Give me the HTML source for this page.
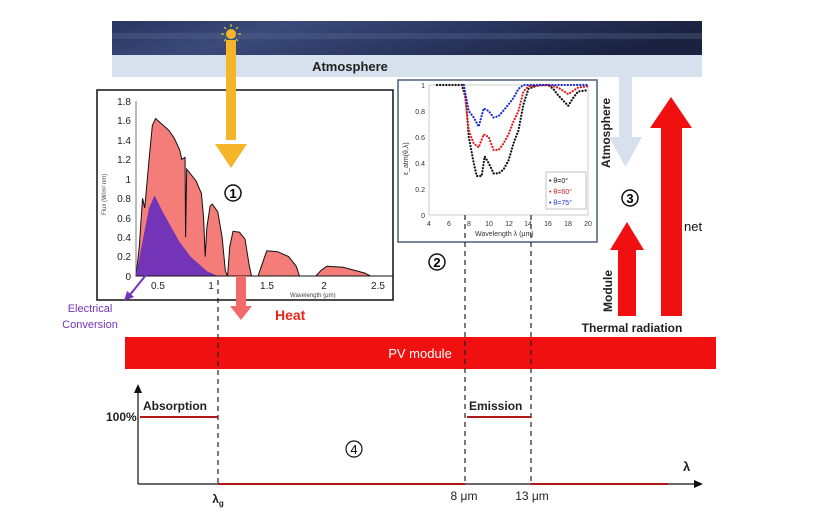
<!DOCTYPE html>
<html><head><meta charset="utf-8"><style>
html,body{margin:0;padding:0;background:#fff;width:832px;height:525px;overflow:hidden}
text{font-family:"Liberation Sans",sans-serif}
</style></head><body>
<svg width="832" height="525" viewBox="0 0 832 525" xmlns="http://www.w3.org/2000/svg">
<defs>
<linearGradient id="sky" x1="0" y1="0" x2="1" y2="0.2">
<stop offset="0" stop-color="#2a3560"/><stop offset="0.3" stop-color="#3b4a7a"/><stop offset="0.6" stop-color="#2c3862"/><stop offset="1" stop-color="#1b2240"/></linearGradient>
</defs>
<!-- banner -->
<rect x="112" y="21" width="590" height="35" fill="url(#sky)"/>
<rect x="112" y="33" width="590" height="6" fill="#5a6790" opacity="0.35"/>
<rect x="112" y="55" width="590" height="22" fill="#d7e1ee"/>
<text x="350" y="71" font-size="13" font-weight="bold" fill="#222" text-anchor="middle">Atmosphere</text>
<!-- sun -->
<circle cx="231" cy="34" r="5" fill="#f5b52a"/>
<g stroke="#c8d040" stroke-width="1.2"><line x1="231" y1="24" x2="231" y2="27"/><line x1="221" y1="34" x2="224" y2="34"/><line x1="238" y1="34" x2="241" y2="34"/><line x1="224" y1="27" x2="226" y2="29"/><line x1="238" y1="27" x2="236" y2="29"/><line x1="224" y1="41" x2="226" y2="39"/><line x1="238" y1="41" x2="236" y2="39"/></g>
<!-- left chart box -->
<rect x="97" y="90" width="296" height="210" fill="#fff" stroke="#111" stroke-width="1.5"/>
<g transform="translate(136,276) scale(109,-97.2) translate(-0.3,0)">
<polygon fill="#f47d7a" stroke="#111" stroke-width="1" vector-effect="non-scaling-stroke" points="0.3,0 0.33,0.3 0.36,0.8 0.38,0.7 0.42,1.2 0.45,1.55 0.48,1.62 0.5,1.6 0.55,1.55 0.6,1.5 0.65,1.42 0.7,1.3 0.72,1.2 0.75,1.22 0.755,0.4 0.765,1.1 0.8,1.05 0.85,0.98 0.9,0.85 0.92,0.6 0.935,0.2 0.95,0.5 0.98,0.72 1.0,0.74 1.05,0.66 1.09,0.4 1.12,0.05 1.14,0 1.16,0.3 1.19,0.46 1.25,0.45 1.3,0.38 1.34,0.1 1.36,0 1.42,0 1.45,0.1 1.5,0.26 1.6,0.25 1.7,0.2 1.77,0.1 1.8,0 1.95,0 2.0,0.06 2.05,0.1 2.2,0.09 2.4,0.03 2.45,0"/>
<polygon fill="#7434b8" points="0.3,0 0.35,0.3 0.42,0.7 0.47,0.83 0.55,0.65 0.7,0.35 0.8,0.2 0.95,0.05 1.05,0"/>
</g>
<line x1="136" y1="276" x2="393" y2="276" stroke="#111" stroke-width="1"/>
<line x1="136" y1="101" x2="136" y2="276" stroke="#555" stroke-width="0.8"/>
<g font-size="10" fill="#222" text-anchor="end">
<text x="131" y="105">1.8</text><text x="131" y="124">1.6</text><text x="131" y="144">1.4</text><text x="131" y="163">1.2</text><text x="131" y="183">1</text><text x="131" y="202">0.8</text><text x="131" y="222">0.6</text><text x="131" y="241">0.4</text><text x="131" y="260">0.2</text><text x="131" y="280">0</text></g>
<g font-size="10" fill="#222" text-anchor="middle"><text x="158" y="289">0.5</text><text x="211" y="289">1</text><text x="267" y="289">1.5</text><text x="324" y="289">2</text><text x="378" y="289">2.5</text></g>
<text x="290" y="297" font-size="6" fill="#444">Wavelength (μm)</text>
<text transform="translate(106,215) rotate(-90)" font-size="6" fill="#444">Flux (W/m² nm)</text>
<!-- yellow arrow -->
<rect x="226" y="40" width="10" height="100" fill="#f5b52a"/>
<polygon points="215,144 247,144 231,168" fill="#f5b52a"/>
<circle cx="233" cy="193" r="8" fill="#fff" stroke="#111" stroke-width="1.5"/><text x="233" y="198" font-size="13" text-anchor="middle" font-weight="bold">1</text>
<!-- heat arrow -->
<rect x="236" y="276" width="10" height="30" fill="#f46a6a"/>
<polygon points="230,306 252,306 241,320" fill="#f46a6a"/>
<text x="275" y="320" font-size="14" font-weight="bold" fill="#e8241c">Heat</text>
<line x1="150" y1="270" x2="129" y2="296" stroke="#7434b8" stroke-width="2"/>
<polygon points="124,301 127,291 134,297" fill="#7434b8"/>
<text x="90" y="312" font-size="11" fill="#7434b8" text-anchor="middle">Electrical</text>
<text x="90" y="328" font-size="11" fill="#7434b8" text-anchor="middle">Conversion</text>
<!-- inset chart -->
<rect x="398" y="80" width="199" height="162" fill="#fff" stroke="#4a5e7a" stroke-width="1.5"/>
<rect x="429" y="85" width="159" height="130" fill="none" stroke="#aaa" stroke-width="0.6"/>
<g font-size="7" fill="#333" text-anchor="end"><text x="425" y="88">1</text><text x="425" y="114">0.8</text><text x="425" y="140">0.6</text><text x="425" y="166">0.4</text><text x="425" y="192">0.2</text><text x="425" y="218">0</text></g>
<g font-size="7" fill="#333" text-anchor="middle"><text x="429" y="226">4</text><text x="449" y="226">6</text><text x="469" y="226">8</text><text x="489" y="226">10</text><text x="509" y="226">12</text><text x="528" y="226">14</text><text x="548" y="226">16</text><text x="568" y="226">18</text><text x="588" y="226">20</text></g>
<text x="475" y="236" font-size="7" fill="#333">Wavelength λ (μm)</text>
<text transform="translate(408,175) rotate(-90)" font-size="7" fill="#333">ε_atm(θ,λ)</text>
<g transform="translate(429,215) scale(9.94,-130) translate(-4,0)" fill="none" stroke-linecap="round" vector-effect="non-scaling-stroke">
<polyline stroke="#111" stroke-width="2.2" stroke-dasharray="0.1 3" vector-effect="non-scaling-stroke" points="4.8,1 7.3,1 7.7,0.9 8,0.6 8.5,0.4 8.8,0.3 9.3,0.3 9.6,0.45 10,0.4 10.5,0.32 11,0.32 11.5,0.35 12,0.42 12.5,0.55 13,0.65 13.5,0.85 14,0.97 15,1 16,1 16.5,0.97 17,0.92 17.5,0.88 18,0.84 18.5,0.9 19,0.95 20,0.96"/>
<polyline stroke="#e02020" stroke-width="2.2" stroke-dasharray="0.1 3" vector-effect="non-scaling-stroke" points="7.5,1 8,0.65 8.5,0.55 9,0.52 9.5,0.62 10,0.6 10.5,0.5 11,0.5 11.5,0.55 12,0.62 12.5,0.72 13,0.8 13.5,0.95 14,0.99 16,1 17,0.98 18,0.93 19,0.98 20,0.99"/>
<polyline stroke="#2030d0" stroke-width="2.2" stroke-dasharray="0.1 3" vector-effect="non-scaling-stroke" points="7.5,1 8,0.8 8.5,0.75 9,0.68 9.5,0.82 10,0.8 10.5,0.75 11,0.76 12,0.85 12.5,0.9 13,0.97 13.5,1 20,1"/>
</g>
<rect x="546" y="172" width="40" height="37" fill="#fff" stroke="#999" stroke-width="0.6"/>
<g font-size="7"><text x="549" y="183" fill="#111">• θ=0°</text><text x="549" y="194" fill="#d02020">• θ=60°</text><text x="549" y="205" fill="#2030d0">• θ=75°</text></g>
<circle cx="437" cy="262" r="8" fill="#fff" stroke="#111" stroke-width="1.5"/><text x="437" y="267" font-size="13" text-anchor="middle" font-weight="bold">2</text>
<!-- right arrows -->
<rect x="619" y="77" width="13" height="60" fill="#d7e1ee"/>
<polygon points="609,137 642,137 625.5,167" fill="#d7e1ee"/>
<text transform="translate(610,168) rotate(-90)" font-size="12" font-weight="bold" fill="#222">Atmosphere</text>
<circle cx="630" cy="198" r="8" fill="#fff" stroke="#111" stroke-width="1.5"/><text x="630" y="203" font-size="13" text-anchor="middle" font-weight="bold">3</text>
<rect x="661" y="128" width="21" height="188" fill="#f01010"/>
<polygon points="650,128 692,128 671,97" fill="#f01010"/>
<text x="684" y="231" font-size="13" fill="#111">net</text>
<rect x="618" y="250" width="18" height="66" fill="#f01010"/>
<polygon points="610,250 644,250 627,222" fill="#f01010"/>
<text transform="translate(612,312) rotate(-90)" font-size="12" font-weight="bold" fill="#222">Module</text>
<text x="632" y="332" font-size="12" font-weight="bold" fill="#222" text-anchor="middle">Thermal radiation</text>
<!-- PV module -->
<rect x="125" y="337" width="591" height="32" fill="#f01010"/>
<text x="420" y="358" font-size="13" fill="#fff" text-anchor="middle">PV module</text>
<!-- dashed lines -->
<g stroke="#222" stroke-width="1.2" stroke-dasharray="5 4">
<line x1="218" y1="280" x2="218" y2="484"/><line x1="465" y1="215" x2="465" y2="484"/><line x1="531" y1="215" x2="531" y2="484"/></g>
<!-- bottom plot -->
<line x1="138" y1="484" x2="138" y2="392" stroke="#111" stroke-width="1.2"/>
<polygon points="134,393 142,393 138,384" fill="#111"/>
<line x1="138" y1="484" x2="695" y2="484" stroke="#111" stroke-width="1.2"/>
<polygon points="694,480 694,488 703,484" fill="#111"/>
<g stroke="#b01818" stroke-width="2"><line x1="140" y1="417" x2="218" y2="417"/><line x1="467" y1="417" x2="531" y2="417"/><line x1="218" y1="484" x2="465" y2="484"/><line x1="531" y1="484" x2="668" y2="484"/></g>
<text x="106" y="421" font-size="12" font-weight="bold" fill="#222">100%</text>
<text x="143" y="410" font-size="12" font-weight="bold" fill="#222">Absorption</text>
<text x="469" y="410" font-size="12" font-weight="bold" fill="#222">Emission</text>
<text x="683" y="471" font-size="13" font-weight="bold" fill="#222">λ</text>
<text x="218" y="503" font-size="12" font-weight="bold" fill="#222" text-anchor="middle">λ<tspan font-size="8" dy="3">g</tspan></text>
<text x="464" y="500" font-size="12" fill="#222" text-anchor="middle">8 μm</text>
<text x="532" y="500" font-size="12" fill="#222" text-anchor="middle">13 μm</text>
<circle cx="354" cy="449" r="8" fill="#fff" stroke="#111" stroke-width="1.2"/><text x="354" y="454" font-size="13" text-anchor="middle">4</text>
</svg>
</body></html>
